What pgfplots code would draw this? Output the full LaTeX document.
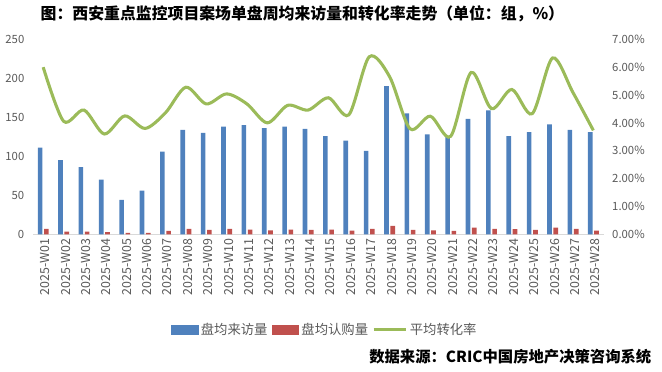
\documentclass[border=0pt]{standalone}
\usepackage{pgfplots}
\pgfplotsset{compat=1.18}
\usepackage{pgfplotstable}
\usepackage{fontspec}
\setmainfont{Noto Sans CJK SC}
\definecolor{cblue}{HTML}{4F81BD}
\definecolor{cred}{HTML}{C0504D}
\definecolor{cgreen}{HTML}{9BBB59}
\definecolor{tgray}{HTML}{595959}
\definecolor{axgray}{HTML}{D9D9D9}
\pgfplotstableread{
x visit sub rate
0 111 6.8 6.00
1 95 3.4 4.06
2 86 3.4 4.46
3 70 2.8 3.60
4 44 1.8 4.25
5 56 1.9 3.80
6 106 4.5 4.36
7 134 7.0 5.28
8 130 5.8 4.68
9 138 6.9 5.04
10 140 6.1 4.68
11 136 4.9 4.00
12 138 6.0 4.63
13 135 5.8 4.46
14 126 5.9 4.90
15 120 4.8 4.29
16 107 6.8 6.37
17 190 10.7 5.66
18 155 5.8 3.79
19 128 4.9 4.24
20 125 4.3 3.52
21 148 8.4 5.81
22 159 7.0 4.51
23 126 6.7 5.20
24 131 5.6 4.33
25 141 8.5 6.33
26 134 6.8 5.09
27 131 4.6 3.73
}\datatable
\begin{document}
\begin{tikzpicture}
\path[use as bounding box] (0,0) rectangle (496.5pt,279pt);
\pgfplotsset{
  common/.style={
    anchor=south west, at={(24.75pt,103.28pt)},
    scale only axis, width=427.9pt, height=146.25pt,
    xmin=-0.5, xmax=27.5,
    major tick length=0pt,
    tick label style={font=\fontsize{8.5}{10}\selectfont, text=tgray},
    /pgf/number format/assume math mode=true,
  }
}
\begin{axis}[common,
  ymin=0, ymax=250, ytick={0,50,100,150,200,250},
  axis x line*=bottom, axis y line*=left,
  y axis line style={draw=none},
  x axis line style={draw=axgray, line width=0.8pt, -},
  xtick={0,...,27},
  xticklabels={2025-W01,2025-W02,2025-W03,2025-W04,2025-W05,2025-W06,2025-W07,2025-W08,2025-W09,2025-W10,2025-W11,2025-W12,2025-W13,2025-W14,2025-W15,2025-W16,2025-W17,2025-W18,2025-W19,2025-W20,2025-W21,2025-W22,2025-W23,2025-W24,2025-W25,2025-W26,2025-W27,2025-W28},
  xticklabel style={rotate=90, anchor=east, font=\fontsize{9.3}{10}\selectfont},
  xtick style={draw=none},
  x tick label style={yshift=-1.5pt},
  yticklabel style={xshift=-3pt},
  ybar, bar width=3.5pt,
]
\addplot[fill=cblue, draw=none, bar shift=-2.3pt] table[x=x, y=visit] {\datatable};
\addplot[fill=cred, draw=none, bar shift=2.4pt] table[x=x, y=sub] {\datatable};
\end{axis}
\begin{axis}[common,
  ymin=0, ymax=7, ytick={0,1,2,3,4,5,6,7},
  axis x line=none, axis y line*=right,
  y axis line style={draw=none},
  yticklabel={\pgfmathprintnumber[fixed,fixed zerofill,precision=2]{\tick}\%},
  yticklabel style={xshift=3pt},
  legend columns=3,
  legend style={at={(0.512,-0.49)}, anchor=center, draw=none, fill=none,
    font=\fontsize{10}{12}\selectfont, text=tgray,
    /tikz/every even column/.append style={column sep=1pt}},
]
\addlegendimage{area legend, legend image code/.code={\fill[cblue] (0pt,-3.6pt) rectangle (20pt,3.6pt);}}
\addlegendentry{盘均来访量}
\addlegendimage{area legend, legend image code/.code={\fill[cred] (0pt,-3.6pt) rectangle (20pt,3.6pt);}}
\addlegendentry{盘均认购量}
\addplot[cgreen, line width=2.3pt, smooth, tension=0.5, no marks,
  legend image code/.code={\draw[cgreen, line width=2.3pt] (0pt,0pt) -- (24pt,0pt);}]
  table[x=x, y=rate] {\datatable};
\addlegendentry{平均转化率}
\end{axis}
\node[anchor=west, font=\bfseries\fontsize{11.9}{13}\selectfont] at (27pt,268.5pt) {图：西安重点监控项目案场单盘周均来访量和转化率走势（单位：组，\%）};
\node[anchor=east, font=\bfseries\fontsize{11.5}{13}\selectfont] at (492pt,11.25pt) {数据来源：CRIC中国房地产决策咨询系统};
\end{tikzpicture}
\end{document}
